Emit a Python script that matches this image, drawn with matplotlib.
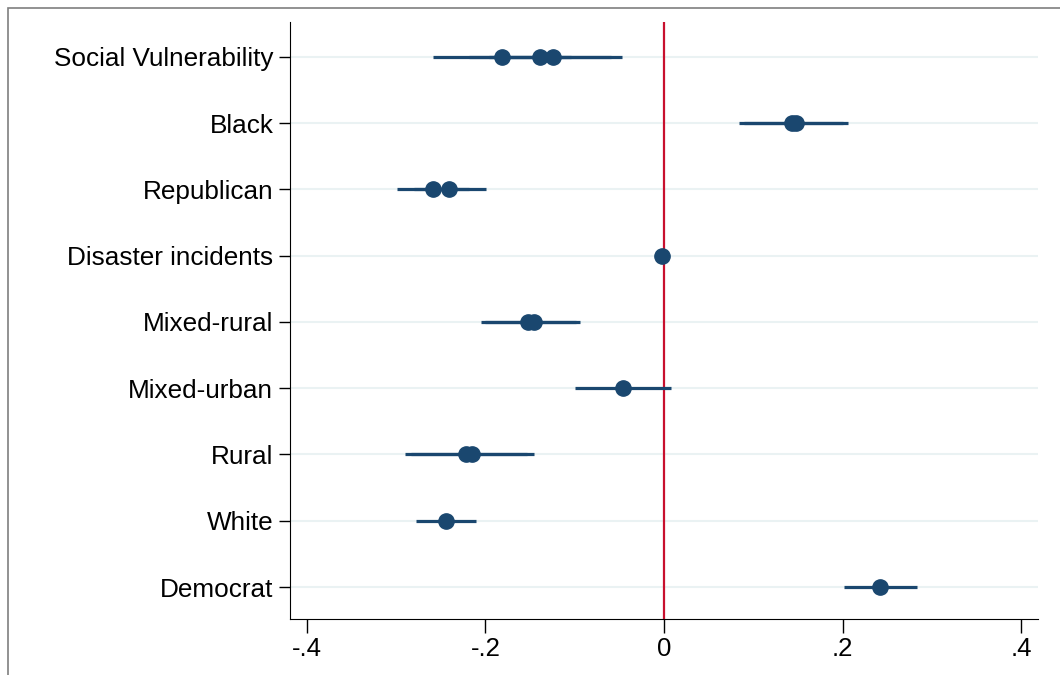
import matplotlib.pyplot as plt
import matplotlib.patches as patches
import numpy as np

# * Dados (coeficientes e intervalos de confianca)
variaveis = ["Social Vulnerability", "Black", "Republican", "Disaster incidents",
             "Mixed-rural", "Mixed-urban", "Rural", "White", "Democrat"]

# . cada estimativa: (linha, coeficiente, ic inferior, ic superior)
linha = [1, 1, 1, 2, 2, 3, 3, 4, 5, 5, 6, 7, 7, 8, 9]
coef = [-0.1815, -0.139, -0.124, 0.143, 0.148, -0.2585, -0.2406, -0.002,
        -0.152, -0.146, -0.0456, -0.222, -0.215, -0.244, 0.242]
ic_inf = [-0.259, -0.219, -0.196, 0.084, 0.090, -0.2995, -0.280, -0.006,
          -0.205, -0.200, -0.0997, -0.290, -0.284, -0.278, 0.2017]
ic_sup = [-0.104, -0.059, -0.047, 0.200, 0.206, -0.2190, -0.1994, 0.002,
          -0.099, -0.094, 0.0078, -0.153, -0.1457, -0.2106, 0.283]

ticks_x = [-0.4, -0.2, 0, 0.2, 0.4]
rotulos_x = ["-.4", "-.2", "0", ".2", ".4"]

plt.rcParams["font.family"] = ["Liberation Sans", "DejaVu Sans"]

fig = plt.figure(figsize=(10.6, 6.75), dpi=100)
ax = fig.add_axes([290 / 1060, 56 / 675, 748 / 1060, 597 / 675])

# borda cinza da figura
fig.patches.append(patches.Rectangle((8 / 1060, -0.1), 1.2, 1.1 - 8 / 675,
                                     transform=fig.transFigure, fill=False,
                                     edgecolor="#7f7f7f", linewidth=1.2))

azul = "#1a476f"
for i, nome in enumerate(variaveis):
    ax.axhline(i + 1, color="#eaf2f3", linewidth=1.5, zorder=0)

ax.axvline(0, color="#c8102e", linewidth=1.6, zorder=1)

for y, c, lo, hi in zip(linha, coef, ic_inf, ic_sup):
    ax.plot([lo, hi], [y, y], color=azul, linewidth=2.3, solid_capstyle="butt", zorder=2)
for y, c in zip(linha, coef):
    ax.plot(c, y, "o", color=azul, markersize=11, zorder=3)

ax.set_xlim(-0.419, 0.419)
ax.set_ylim(9.483, 0.472)
ax.set_yticks(range(1, len(variaveis) + 1))
ax.set_yticklabels(variaveis, fontsize=18.8)
ax.set_xticks(ticks_x)
ax.set_xticklabels(rotulos_x, fontsize=18.5)

ax.spines["top"].set_visible(False)
ax.spines["right"].set_visible(False)
ax.tick_params(axis="y", length=8, width=1, pad=4)
ax.tick_params(axis="x", length=10, width=1, pad=3)

fig.savefig("out.png", dpi=100)
